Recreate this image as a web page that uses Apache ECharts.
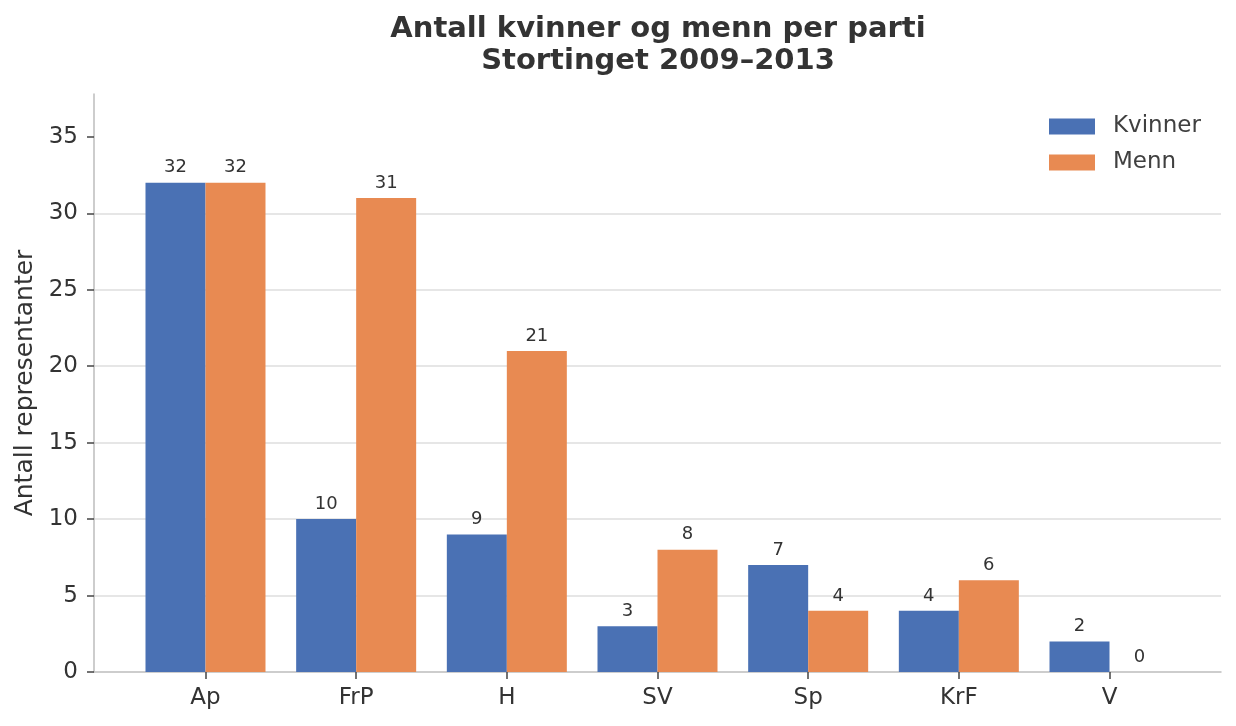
<!DOCTYPE html>
<html>
<head>
<meta charset="utf-8">
<script src="https://cdn.jsdelivr.net/npm/echarts@6/dist/echarts.min.js"></script>
<style>html,body{margin:0;padding:0;background:#fff;}#c{width:1236px;height:726px;}</style>
</head>
<body>
<div id="c"></div>
<script>
const categories = ['Ap', 'FrP', 'H', 'SV', 'Sp', 'KrF', 'V'];
const kvinner = [32, 10, 9, 3, 7, 4, 2];
const menn = [32, 31, 21, 8, 4, 6, 0];
const yTicks = [0, 5, 10, 15, 20, 25, 30, 35];
const seriesNames = ['Kvinner', 'Menn'];
const titleLines = ['Antall kvinner og menn per parti', 'Stortinget 2009–2013'];
const yName = 'Antall representanter';

const FONT = 'DejaVu Sans';
const idx = categories.map((_, i) => i);
const chart = echarts.init(document.getElementById('c'), null, {renderer: 'canvas'});
const labelCfg = {show: true, position: 'top', distance: 6, fontFamily: FONT, fontSize: 18, color: '#333'};
chart.setOption({
  backgroundColor: '#ffffff',
  animation: false,
  title: {
    text: titleLines.join('\n'),
    left: 653, textAlign: 'center', top: 8,
    textStyle: {fontFamily: FONT, fontSize: 29, fontWeight: 'bold', color: '#333', lineHeight: 32}
  },
  legend: {
    data: seriesNames, orient: 'vertical', left: 1044, top: 110,
    icon: 'rect', itemWidth: 46, itemHeight: 16, itemGap: 13,
    textStyle: {fontFamily: FONT, fontSize: 23, color: '#404040', padding: [0, 0, 0, 13]}
  },
  grid: {left: 94, right: 15, top: 94, bottom: 54},
  xAxis: {
    type: 'value', min: -0.74, max: 6.74,
    axisLine: {show: true, onZero: false, lineStyle: {color: '#bdbdbd', width: 1.5}},
    axisTick: {show: true, length: 7, customValues: idx, lineStyle: {color: '#444', width: 1.5}},
    axisLabel: {customValues: idx, formatter: v => categories[Math.round(v)], fontFamily: FONT, fontSize: 23, color: '#333', margin: 15},
    splitLine: {show: false}
  },
  yAxis: {
    type: 'value', min: 0, max: 37.8, interval: 5,
    name: yName, nameLocation: 'middle', nameGap: 55, nameRotate: 90,
    nameTextStyle: {fontFamily: FONT, fontSize: 25, color: '#333'},
    axisLine: {show: true, onZero: false, lineStyle: {color: '#bdbdbd', width: 1.5}},
    axisTick: {show: true, length: 7, customValues: yTicks, lineStyle: {color: '#444', width: 1.5}},
    axisLabel: {customValues: yTicks, fontFamily: FONT, fontSize: 23, color: '#333', margin: 16},
    splitLine: {show: true, showMinLine: false, showMaxLine: false, lineStyle: {color: '#dedede', width: 1.5}}
  },
  series: [
    {name: seriesNames[0], type: 'bar', data: kvinner.map((v, i) => [i, v]), barWidth: 60, barGap: '0%',
     itemStyle: {color: '#4a71b4'}, label: labelCfg},
    {name: seriesNames[1], type: 'bar', data: menn.map((v, i) => [i, v]), barWidth: 60, barGap: '0%',
     itemStyle: {color: '#e88a52'}, label: labelCfg}
  ]
});
</script>
</body>
</html>
